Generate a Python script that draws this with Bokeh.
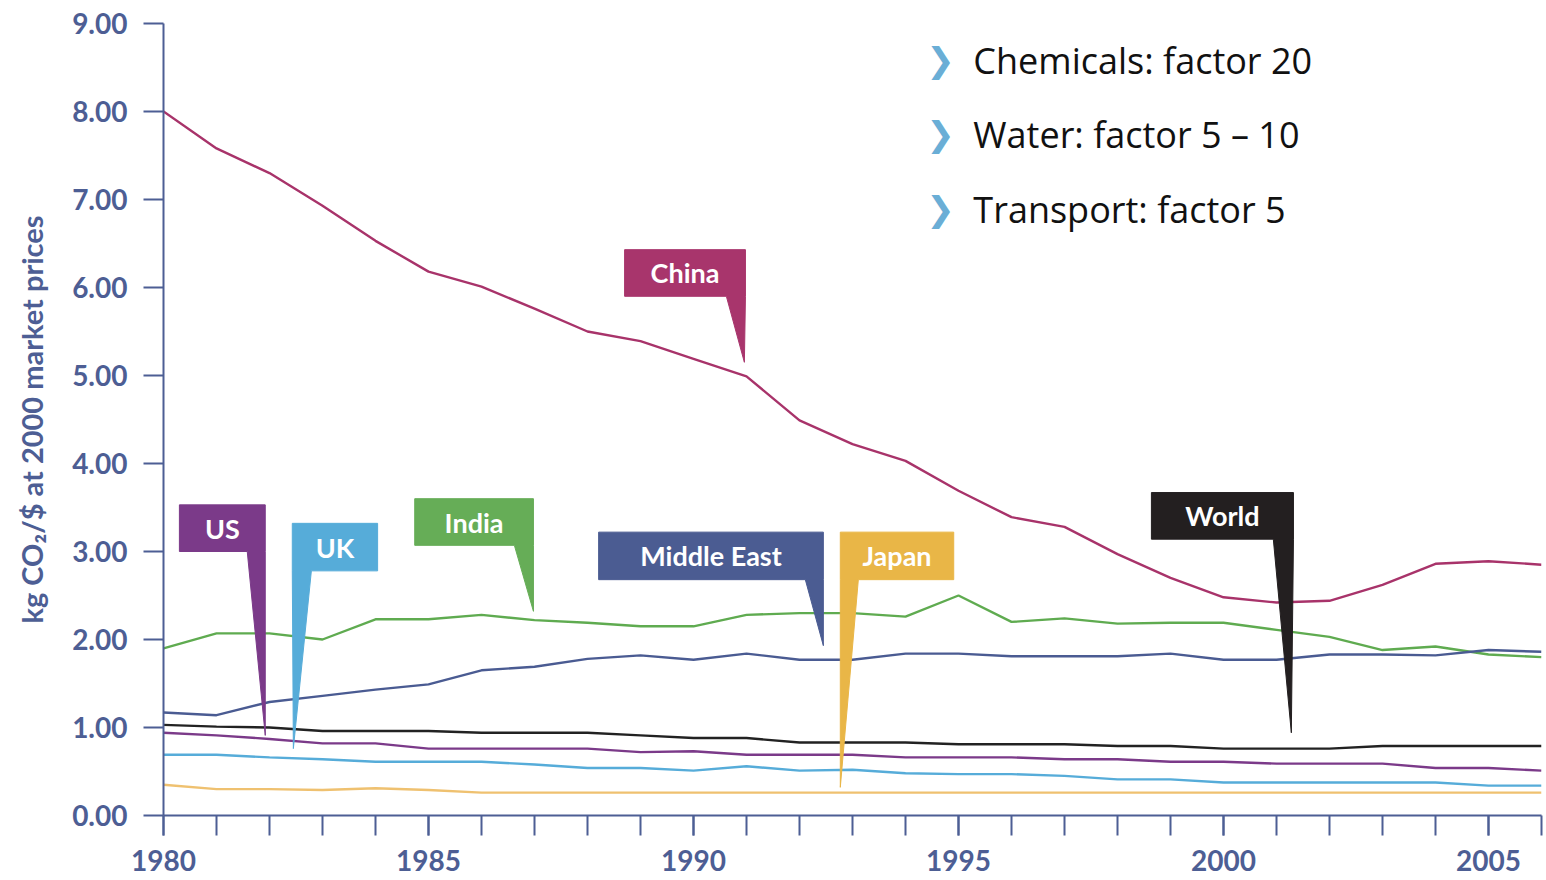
from bokeh.plotting import figure
from bokeh.models import Range1d, FixedTicker, ColumnDataSource
from bokeh.core.properties import value
from bokeh.embed import file_html
from bokeh.resources import INLINE

# ---------------- data ----------------
years = list(range(1980, 2007))

china = [8.00, 7.58, 7.30, 6.93, 6.53, 6.18, 6.01, 5.76, 5.50, 5.39, 5.19, 4.99, 4.49,
         4.22, 4.03, 3.69, 3.39, 3.28, 2.97, 2.70, 2.48, 2.42, 2.44, 2.62, 2.86, 2.89, 2.85]
india = [1.90, 2.07, 2.07, 2.00, 2.23, 2.23, 2.28, 2.22, 2.19, 2.15, 2.15, 2.28, 2.30,
         2.30, 2.26, 2.50, 2.20, 2.24, 2.18, 2.19, 2.19, 2.11, 2.03, 1.88, 1.92, 1.83, 1.80]
middle_east = [1.17, 1.14, 1.29, 1.36, 1.43, 1.49, 1.65, 1.69, 1.78, 1.82, 1.77, 1.84, 1.77,
               1.77, 1.84, 1.84, 1.81, 1.81, 1.81, 1.84, 1.77, 1.77, 1.83, 1.83, 1.82, 1.88, 1.86]
world = [1.03, 1.01, 1.00, 0.96, 0.96, 0.96, 0.94, 0.94, 0.94, 0.91, 0.88, 0.88, 0.83,
         0.83, 0.83, 0.81, 0.81, 0.81, 0.79, 0.79, 0.76, 0.76, 0.76, 0.79, 0.79, 0.79, 0.79]
us = [0.94, 0.91, 0.87, 0.82, 0.82, 0.76, 0.76, 0.76, 0.76, 0.72, 0.73, 0.69, 0.69,
      0.69, 0.66, 0.66, 0.66, 0.64, 0.64, 0.61, 0.61, 0.59, 0.59, 0.59, 0.54, 0.54, 0.51]
uk = [0.69, 0.69, 0.66, 0.64, 0.61, 0.61, 0.61, 0.58, 0.54, 0.54, 0.51, 0.56, 0.51,
      0.52, 0.48, 0.47, 0.47, 0.45, 0.41, 0.41, 0.375, 0.375, 0.375, 0.375, 0.375, 0.34, 0.34]
japan = [0.35, 0.30, 0.30, 0.29, 0.31, 0.29, 0.26, 0.26, 0.26, 0.26, 0.26, 0.26, 0.26,
         0.26, 0.26, 0.26, 0.26, 0.26, 0.26, 0.26, 0.26, 0.26, 0.26, 0.26, 0.26, 0.26, 0.26]

series_names = ["China", "India", "Middle East", "World", "US", "UK", "Japan"]
series_values = [china, india, middle_east, world, us, uk, japan]
line_colors = ["#a8336a", "#5fab50", "#4a5b92", "#222222", "#7b3a89", "#56acd9", "#efc170"]

# callout flags (data units)
callout_names = ["US", "UK", "India", "Middle East", "Japan", "China", "World"]
callout_colors = ["#7b3a89", "#56acd9", "#66ad57", "#4b5c92", "#e9b647", "#a8356c", "#231f20"]
box_left = [1980.30, 1982.43, 1984.74, 1988.21, 1992.77, 1988.70, 1998.64]
box_right = [1981.92, 1984.04, 1986.98, 1992.45, 1994.91, 1990.98, 2001.32]
box_top = [3.53, 3.32, 3.60, 3.22, 3.22, 6.43, 3.67]
box_bottom = [3.00, 2.78, 3.07, 2.68, 2.68, 5.90, 3.14]
spike_a = [1981.58, 1982.43, 1986.62, 1992.11, 1992.77, 1990.62, 2000.94]
spike_b = [1981.92, 1982.79, 1986.98, 1992.45, 1993.11, 1990.98, 2001.32]
tip_x = [1981.92, 1982.45, 1986.98, 1992.45, 1992.77, 1990.96, 2001.28]
tip_y = [0.91, 0.76, 2.32, 1.93, 0.32, 5.15, 0.94]

bullets = ["Chemicals: factor 20", "Water: factor 5 \u2013 10", "Transport: factor 5"]
bullet_y = [8.58, 7.74, 6.89]

axis_color = "#4d5e94"

# ---------------- figure ----------------
p = figure(width=1546, height=880, x_range=Range1d(1980, 2006), y_range=Range1d(0, 9),
           output_backend="svg", toolbar_location=None,
           min_border_left=163, min_border_right=5, min_border_top=23, min_border_bottom=65)
p.outline_line_color = None
p.xgrid.visible = False
p.ygrid.visible = False
p.background_fill_color = "white"
p.border_fill_color = "white"

for name, vals, col in zip(series_names, series_values, line_colors):
    p.line(years, vals, line_color=col, line_width=2.4)

# callouts
xs, ys = [], []
for i in range(len(callout_names)):
    xs.append([box_left[i], box_right[i], box_right[i], spike_b[i], tip_x[i], spike_a[i], box_left[i]])
    ys.append([box_top[i], box_top[i], box_bottom[i], box_bottom[i], tip_y[i], box_bottom[i], box_bottom[i]])
p.patches(xs, ys, fill_color=callout_colors, line_color=callout_colors, line_width=1)

lab_src = ColumnDataSource(dict(
    x=[(a + b) / 2 for a, b in zip(box_left, box_right)],
    y=[(a + b) / 2 for a, b in zip(box_top, box_bottom)],
    t=callout_names))
p.text("x", "y", text="t", source=lab_src, text_color="white", text_font=value("Lato"),
       text_font_style="bold", text_font_size="27px", text_align="center", text_baseline="middle")

# bullet list
p.text([1994.66] * 3, bullet_y, text=["\u276F"] * 3, text_color="#6aaed6",
       text_font=value("DejaVu Sans"), text_font_style="bold", text_font_size="34px",
       text_align="center", text_baseline="middle")
p.text([1995.28] * 3, bullet_y, text=bullets, text_color="#111111", text_font=value("Open Sans"),
       text_font_size="36px", text_align="left", text_baseline="middle")

# axes
for ax in (p.xaxis[0], p.yaxis[0]):
    ax.axis_line_color = axis_color
    ax.axis_line_width = 2
    ax.major_tick_line_color = axis_color
    ax.major_tick_line_width = 2
    ax.major_tick_out = 20
    ax.major_tick_in = 0
    ax.minor_tick_line_color = axis_color
    ax.minor_tick_line_width = 2
    ax.minor_tick_out = 20
    ax.minor_tick_in = 0
    ax.major_label_text_color = axis_color
    ax.major_label_text_font = "Lato"
    ax.major_label_text_font_style = "bold"
    ax.major_label_text_font_size = "28px"

p.xaxis.ticker = FixedTicker(ticks=list(range(1980, 2006, 5)), minor_ticks=years)
p.xaxis.major_label_standoff = 14
p.yaxis.ticker = FixedTicker(ticks=list(range(0, 10)), minor_ticks=[])
p.yaxis.major_label_overrides = {i: "%.2f" % i for i in range(0, 10)}
p.yaxis.major_label_standoff = 16
p.yaxis.axis_label = "kg CO\u2082/$ at 2000 market prices"
p.yaxis.axis_label_text_color = axis_color
p.yaxis.axis_label_text_font = "Lato"
p.yaxis.axis_label_text_font_style = "bold"
p.yaxis.axis_label_text_font_size = "29px"
p.yaxis.axis_label_standoff = 20

open("out.html", "w").write(file_html(p, INLINE))
